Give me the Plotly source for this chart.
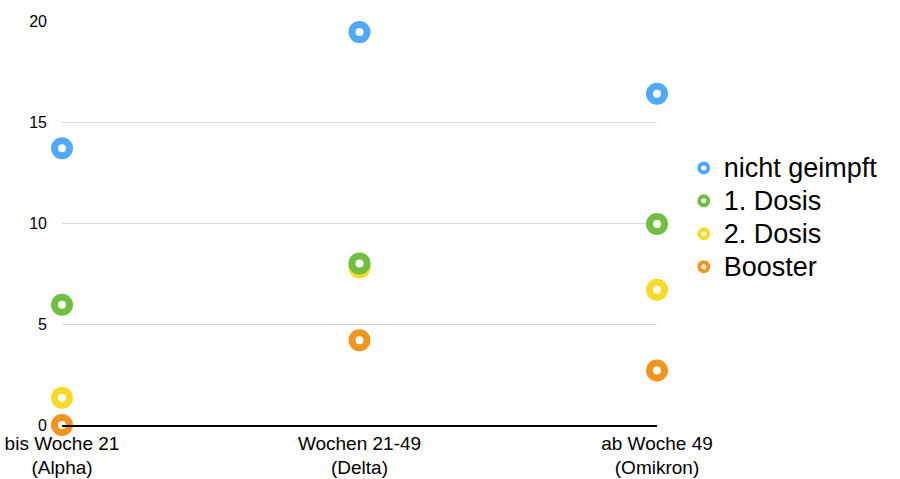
import plotly.graph_objects as go

periods = ["bis Woche 21<br>(Alpha)", "Wochen 21-49<br>(Delta)", "ab Woche 49<br>(Omikron)"]
series_names = ["nicht geimpft", "1. Dosis", "2. Dosis", "Booster"]
nicht_geimpft = [13.7, 19.45, 16.4]
dosis_1 = [5.95, 8.0, 9.95]
dosis_2 = [1.35, 7.8, 6.7]
booster = [0.0, 4.2, 2.7]
y_ticks = [0, 5, 10, 15, 20]

colors = {"nicht geimpft": "#51A7F9", "1. Dosis": "#70BF41", "2. Dosis": "#F7D92A", "Booster": "#F0951F"}
values = {"nicht geimpft": nicht_geimpft, "1. Dosis": dosis_1, "2. Dosis": dosis_2, "Booster": booster}
xpos = list(range(len(periods)))

fig = go.Figure()
# draw order: yellow beneath green
for name in ["nicht geimpft", "2. Dosis", "1. Dosis", "Booster"]:
    fig.add_trace(go.Scatter(
        x=xpos, y=values[name], mode="markers", name=name, showlegend=False,
        cliponaxis=False,
        marker=dict(symbol="circle", size=15, color="white",
                    line=dict(color=colors[name], width=7)),
    ))
# legend entries
for name in series_names:
    fig.add_trace(go.Scatter(
        x=[None], y=[None], mode="markers",
        name='<span style="font-size:27px">' + name + '</span>', showlegend=True,
        marker=dict(symbol="circle", size=9, color="white",
                    line=dict(color=colors[name], width=4)),
    ))

fig.update_layout(
    width=900, height=479,
    margin=dict(l=62, r=243, t=21, b=54, autoexpand=False),
    paper_bgcolor="white", plot_bgcolor="white",
    font=dict(family="Liberation Sans, Arial, sans-serif", color="#000"),
    legend=dict(x=1.045, xanchor="left", y=0.5136, yanchor="middle",
                font=dict(size=23), itemsizing="trace", tracegroupgap=0,
                bgcolor="rgba(0,0,0,0)"),
    xaxis=dict(range=[0, 2], tickvals=xpos, ticktext=periods, showgrid=False,
               zeroline=False, showline=True, linecolor="#000", linewidth=1.5,
               tickfont=dict(size=19), ticks="", fixedrange=True, automargin=False),
    yaxis=dict(range=[0, 20], tickvals=y_ticks, showgrid=True, gridcolor="#DCDCDC",
               gridwidth=1, zeroline=False, showline=False, ticks="",
               tickfont=dict(size=16), ticklabelstandoff=14, automargin=False),
)

fig.write_html("out.html")
